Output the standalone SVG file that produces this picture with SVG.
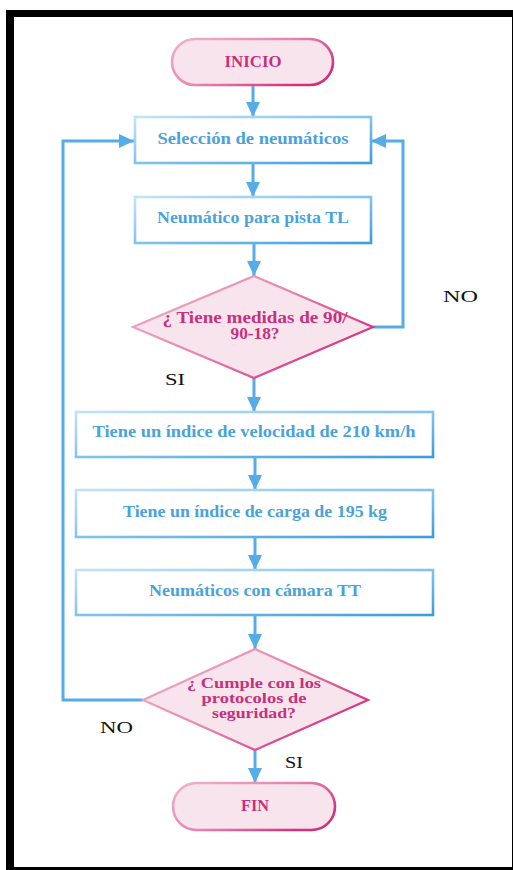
<svg xmlns="http://www.w3.org/2000/svg" width="513" height="870" viewBox="0 0 513 870">
  <defs>
    <linearGradient id="boxStroke" x1="0" y1="0" x2="1" y2="1">
      <stop offset="0" stop-color="#c4e2f6"/>
      <stop offset="0.55" stop-color="#7cc0ec"/>
      <stop offset="1" stop-color="#3a9ddc"/>
    </linearGradient>
    <linearGradient id="pinkStroke" x1="0" y1="0" x2="1" y2="0.6">
      <stop offset="0" stop-color="#f0b4cc"/>
      <stop offset="0.55" stop-color="#e684ae"/>
      <stop offset="1" stop-color="#d42f7f"/>
    </linearGradient>
    <marker id="arrow" markerUnits="userSpaceOnUse" markerWidth="16" markerHeight="16" viewBox="0 0 16 16" refX="15" refY="8" orient="auto">
      <path d="M0,1 L15,8 L0,15 Z" fill="#55ace6"/>
    </marker>
    <style>
      .box { fill: #ffffff; stroke: url(#boxStroke); stroke-width: 2.6; }
      .term { fill: #f7e4ec; stroke: url(#pinkStroke); stroke-width: 2.6; }
      .dec { fill: #f7e4ec; stroke: url(#pinkStroke); stroke-width: 2.2; }
      .btxt { font-family: "Liberation Serif", serif; font-weight: bold; font-size: 16px; fill: #4aa2dc; text-anchor: middle; }
      .ptxt { font-family: "Liberation Serif", serif; font-weight: bold; font-size: 16px; fill: #c7317c; text-anchor: middle; }
      .small { font-size: 14.5px; }
      .lbl { font-family: "Liberation Serif", serif; font-size: 17px; fill: #111111; }
      .conn path { fill: none; stroke: #55ace6; stroke-width: 3; }
    </style>
  </defs>

  <!-- frame -->
  <rect x="6" y="10" width="507" height="860" fill="#000000"/>
  <rect x="14" y="17" width="498" height="850" fill="#ffffff"/>

  <!-- connectors -->
  <g id="connectors" class="conn">
    <path d="M253,85 V117" marker-end="url(#arrow)"/>
    <path d="M253,163 V197" marker-end="url(#arrow)"/>
    <path d="M254,243 V276" marker-end="url(#arrow)"/>
    <path d="M373,327 H403 V141 H371" marker-end="url(#arrow)"/>
    <path d="M254,378 V412" marker-end="url(#arrow)"/>
    <path d="M255,457 V490" marker-end="url(#arrow)"/>
    <path d="M255,537 V570" marker-end="url(#arrow)"/>
    <path d="M255,615 V649" marker-end="url(#arrow)"/>
    <path d="M143,700 H63 V141 H134" marker-end="url(#arrow)"/>
    <path d="M255,750 V783" marker-end="url(#arrow)"/>
  </g>

  <g id="inicio">
    <rect class="term" x="172" y="39" width="161" height="46" rx="23"/>
    <text class="ptxt" x="253" y="67" textLength="57" lengthAdjust="spacingAndGlyphs">INICIO</text>
  </g>

  <g id="seleccion">
    <rect class="box" x="135" y="117" width="236" height="46"/>
    <text class="btxt" x="253" y="144" textLength="191" lengthAdjust="spacingAndGlyphs">Selección de neumáticos</text>
  </g>

  <g id="pista">
    <rect class="box" x="135" y="197" width="236" height="46"/>
    <text class="btxt" x="253" y="223" textLength="192" lengthAdjust="spacingAndGlyphs">Neumático para pista TL</text>
  </g>

  <g id="medidas">
    <polygon class="dec" points="254,276 373,327 254,378 133,327"/>
    <text class="ptxt" x="255" y="323" textLength="185" lengthAdjust="spacingAndGlyphs">¿ Tiene medidas de 90/</text>
    <text class="ptxt" x="255" y="339" textLength="49" lengthAdjust="spacingAndGlyphs">90-18?</text>
  </g>

  <g id="velocidad">
    <rect class="box" x="76" y="412" width="357" height="45"/>
    <text class="btxt" x="254" y="437" textLength="323" lengthAdjust="spacingAndGlyphs">Tiene un índice de velocidad de 210 km/h</text>
  </g>

  <g id="carga">
    <rect class="box" x="76" y="490" width="357" height="47"/>
    <text class="btxt" x="255" y="517" textLength="264" lengthAdjust="spacingAndGlyphs">Tiene un índice de carga de 195 kg</text>
  </g>

  <g id="camara">
    <rect class="box" x="76" y="570" width="357" height="45"/>
    <text class="btxt" x="255" y="596" textLength="212" lengthAdjust="spacingAndGlyphs">Neumáticos con cámara TT</text>
  </g>

  <g id="protocolos">
    <polygon class="dec" points="255,649 368,700 255,750 143,700"/>
    <text class="ptxt small" x="254" y="688" textLength="134" lengthAdjust="spacingAndGlyphs">¿ Cumple con los</text>
    <text class="ptxt small" x="254" y="703" textLength="105" lengthAdjust="spacingAndGlyphs">protocolos de</text>
    <text class="ptxt small" x="254" y="718" textLength="84" lengthAdjust="spacingAndGlyphs">seguridad?</text>
  </g>

  <g id="fin">
    <rect class="term" x="173" y="783" width="162" height="47" rx="23.5"/>
    <text class="ptxt" x="255" y="811" textLength="28" lengthAdjust="spacingAndGlyphs">FIN</text>
  </g>

  <!-- branch labels -->
  <g id="labels">
    <text class="lbl" x="443" y="302" textLength="35" lengthAdjust="spacingAndGlyphs">NO</text>
    <text class="lbl" x="165" y="385" textLength="20" lengthAdjust="spacingAndGlyphs">SI</text>
    <text class="lbl" x="100" y="733" textLength="33" lengthAdjust="spacingAndGlyphs">NO</text>
    <text class="lbl" x="285" y="768" textLength="18" lengthAdjust="spacingAndGlyphs">SI</text>
  </g>
</svg>
